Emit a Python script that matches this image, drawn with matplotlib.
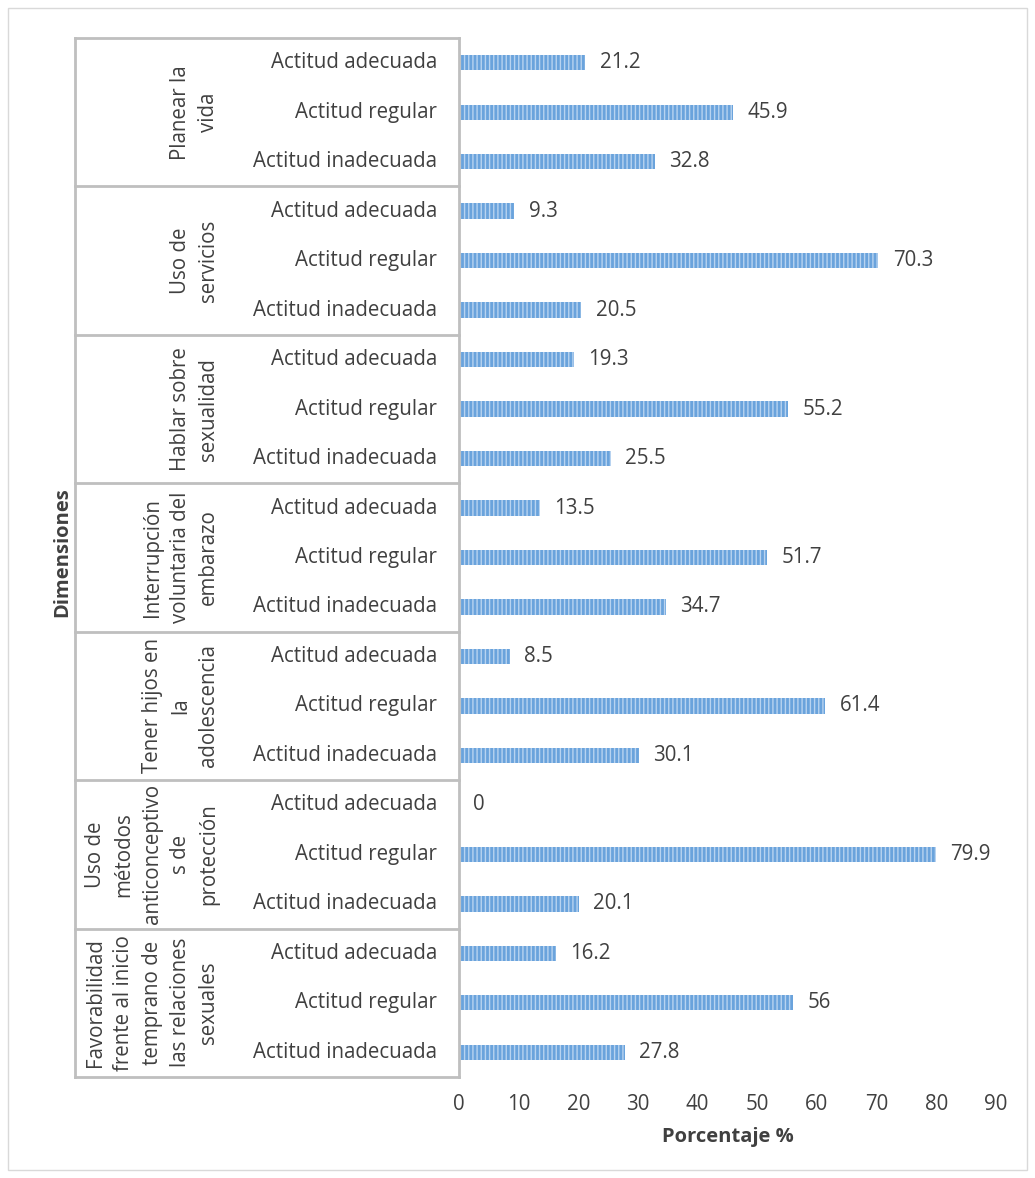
import numpy as np
import matplotlib.pyplot as plt
import matplotlib.transforms as mtransforms
from matplotlib.patches import Rectangle

plt.rcParams['font.family'] = ['Open Sans', 'DejaVu Sans']

groups = ["Planear la\nvida", "Uso de\nservicios", "Hablar sobre\nsexualidad",
          "Interrupción\nvoluntaria del\nembarazo", "Tener hijos en\nla\nadolescencia",
          "Uso de\nmétodos\nanticonceptivo\ns de\nprotección",
          "Favorabilidad\nfrente al inicio\ntemprano de\nlas relaciones\nsexuales"]
categories = ["Actitud adecuada", "Actitud regular", "Actitud inadecuada"]
values = [
    [21.2, 45.9, 32.8],
    [9.3, 70.3, 20.5],
    [19.3, 55.2, 25.5],
    [13.5, 51.7, 34.7],
    [8.5, 61.4, 30.1],
    [0, 79.9, 20.1],
    [16.2, 56, 27.8],
]
value_labels = [
    ["21.2", "45.9", "32.8"],
    ["9.3", "70.3", "20.5"],
    ["19.3", "55.2", "25.5"],
    ["13.5", "51.7", "34.7"],
    ["8.5", "61.4", "30.1"],
    ["0", "79.9", "20.1"],
    ["16.2", "56", "27.8"],
]

W, H = 1035, 1178
fig = plt.figure(figsize=(W / 100, H / 100), dpi=100)
ax = fig.add_axes([459 / W, 1 - 1077 / H, (996 - 459) / W, (1077 - 38) / H])

txt = '#404040'
grid_c = '#bfbfbf'
fs = 14.8

flat_vals = [v for g in values for v in g]
flat_labs = [l for g in value_labels for l in g]
flat_cats = categories * len(groups)
y = np.arange(len(flat_vals))

ax.barh(y, flat_vals, height=0.31, color='#6aa3dc', edgecolor='#b8d3f0',
        hatch='||||', linewidth=0)
for yi, v, lab in zip(y, flat_vals, flat_labs):
    ax.text(v + 2.4, yi, lab, va='center', ha='left', fontsize=fs, color=txt)

ax.set_ylim(len(y) - 0.5, -0.5)
ax.set_xlim(0, 90)
ax.set_xticks(np.arange(0, 91, 10))
ax.set_yticks([])
ax.tick_params(axis='x', length=0, labelsize=fs, labelcolor=txt, pad=12)
for s in ['top', 'right', 'bottom']:
    ax.spines[s].set_visible(False)
ax.spines['left'].set_color(grid_c)
ax.spines['left'].set_linewidth(2)
ax.set_xlabel("Porcentaje %", fontsize=14.5, fontweight='bold', color=txt, labelpad=9)

tr = mtransforms.blended_transform_factory(fig.transFigure, ax.transData)

# category labels
for yi, c in zip(y, flat_cats):
    ax.text(437 / W, yi, c, transform=tr, ha='right', va='center', fontsize=fs, color=txt)

x_left = 75 / W
x_axis = 459 / W
for i in range(len(groups) + 1):
    yb = i * 3 - 0.5
    ax.plot([x_left, x_axis], [yb, yb], transform=tr, color=grid_c, lw=2, clip_on=False)
ax.plot([x_left, x_left], [-0.5, len(y) - 0.5], transform=tr, color=grid_c, lw=2, clip_on=False)

for i, g in enumerate(groups):
    ax.text(219 / W, i * 3 + 1, g, transform=tr, rotation=90, ha='right', va='center',
            multialignment='center', fontsize=fs, color=txt, linespacing=1.45)

fig.text(62 / W, 1 - 552 / H, "Dimensiones", rotation=90, ha='center', va='center',
         fontsize=14.5, fontweight='bold', color=txt)

fig.patches.append(Rectangle((8 / W, 1 - 1170 / H), (1027 - 8) / W, (1170 - 8) / H,
                             transform=fig.transFigure, fill=False, edgecolor='#d9d9d9', lw=1))

fig.savefig('out.png', dpi=100)
